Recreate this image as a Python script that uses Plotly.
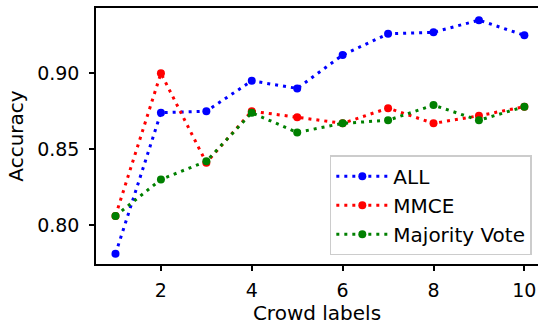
import plotly.graph_objects as go

crowd_labels = [1, 2, 3, 4, 5, 6, 7, 8, 9, 10]
acc_all = [0.781, 0.874, 0.875, 0.895, 0.890, 0.912, 0.926, 0.927, 0.935, 0.925]
acc_mmce = [0.806, 0.900, 0.841, 0.875, 0.871, 0.867, 0.877, 0.867, 0.872, 0.878]
acc_mv = [0.806, 0.830, 0.842, 0.874, 0.861, 0.867, 0.869, 0.879, 0.869, 0.878]
y_ticks = [0.80, 0.85, 0.90]
x_ticks = [2, 4, 6, 8, 10]

FONT = "DejaVu Sans"
FS = 19
FS2 = 20

fig = go.Figure()
for name, vals, col in [("ALL", acc_all, "blue"), ("MMCE", acc_mmce, "red"),
                        ("Majority Vote", acc_mv, "green")]:
    fig.add_trace(go.Scatter(
        x=crowd_labels, y=vals, name=name, mode="lines+markers",
        line=dict(color=col, width=3, dash="3px,5px"),
        marker=dict(color=col, size=8),
    ))

fig.update_layout(
    width=538, height=325,
    margin=dict(l=96, r=0, t=8, b=61),
    paper_bgcolor="white", plot_bgcolor="white",
    font=dict(family=FONT, size=FS, color="black"),
    showlegend=True,
    legend=dict(
        x=0.529, y=0.425, xanchor="left", yanchor="top",
        bgcolor="rgba(255,255,255,0.8)", bordercolor="#cccccc", borderwidth=1.5,
        font=dict(family=FONT, size=FS2, color="black"),
        itemwidth=52,
    ),
    xaxis=dict(
        range=[0.571, 10.30], tickvals=x_ticks, ticktext=[str(v) for v in x_ticks],
        showgrid=False, zeroline=False,
        showline=True, linecolor="black", linewidth=1.5, mirror=True,
        ticks="outside", ticklen=5, tickwidth=1.5, tickcolor="black",
        ticklabelstandoff=3,
        title=dict(text="Crowd labels", standoff=11, font=dict(size=FS2)),
    ),
    yaxis=dict(
        range=[0.7743, 0.943], tickvals=y_ticks, ticktext=[f"{v:.2f}" for v in y_ticks],
        showgrid=False, zeroline=False,
        showline=True, linecolor="black", linewidth=1.5,
        ticks="outside", ticklen=5, tickwidth=1.5, tickcolor="black",
        ticklabelstandoff=6,
        title=dict(text="Accuracy", standoff=8, font=dict(size=FS2)),
    ),
)

fig.write_html("out.html")
